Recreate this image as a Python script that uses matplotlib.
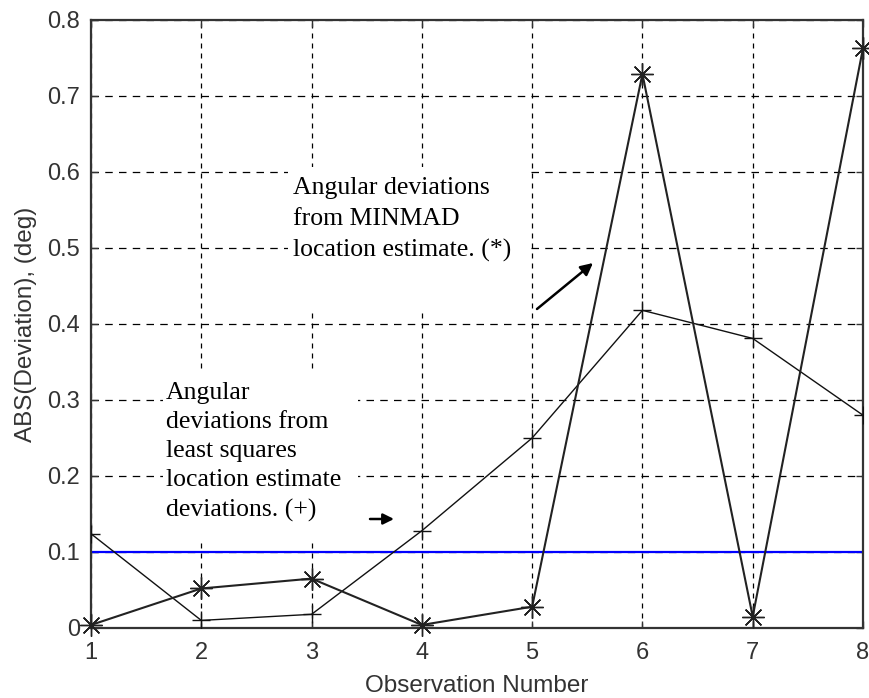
import matplotlib
matplotlib.use("Agg")
import matplotlib.pyplot as plt
from matplotlib.patches import Rectangle

obs = [1, 2, 3, 4, 5, 6, 7, 8]
ls_dev = [0.124, 0.010, 0.018, 0.128, 0.250, 0.418, 0.381, 0.280]
minmad_dev = [0.004, 0.052, 0.065, 0.004, 0.028, 0.729, 0.015, 0.763]
threshold = 0.1
xticks = [1, 2, 3, 4, 5, 6, 7, 8]
yticks = [0, 0.1, 0.2, 0.3, 0.4, 0.5, 0.6, 0.7, 0.8]
yticklabels = ["0", "0.1", "0.2", "0.3", "0.4", "0.5", "0.6", "0.7", "0.8"]

W, H = 869, 698
fig = plt.figure(figsize=(W / 100, H / 100), dpi=100)
ax = fig.add_axes([91 / W, 70 / H, 772 / W, 608 / H])

def fx(px):
    return px / W

def fy(py):
    return 1 - py / H

ax.set_xlim(1, 8)
ax.set_ylim(0, 0.8)
ax.set_xticks(xticks)
ax.set_yticks(yticks)
ax.set_yticklabels(yticklabels)
for lab in ax.get_xticklabels() + ax.get_yticklabels():
    lab.set_fontfamily("Liberation Sans")
    lab.set_fontsize(17)
    lab.set_color("#333333")
ax.tick_params(direction="in", length=5, width=1, color="#333333",
               top=True, right=True)
ax.tick_params(axis="x", pad=10)
ax.tick_params(axis="y", pad=8)
ax.set_axisbelow(True)
ax.grid(axis="y", color="black", lw=0.9, linestyle=(0, (6, 5)))
ax.grid(axis="x", color="black", lw=0.9, linestyle=(0, (4, 4)))
for s in ax.spines.values():
    s.set_color("#333333")
    s.set_linewidth(1.6)

ax.set_xlabel("Observation Number", fontdict=dict(family="Liberation Sans", size=17.5),
              color="#333333", labelpad=8)
ax.set_ylabel("ABS(Deviation), (deg)", fontdict=dict(family="Liberation Sans", size=17.5),
              color="#333333", labelpad=7)

# white text boxes covering grid
for (x0, y0, x1, y1) in [(288, 167, 530, 313), (163, 370, 358, 540)]:
    r = Rectangle((fx(x0), fy(y1)), fx(x1) - fx(x0), fy(y0) - fy(y1),
                  transform=fig.transFigure, facecolor="white", edgecolor="none",
                  zorder=1.5, clip_on=False)
    ax.add_patch(r)

ax.axhline(threshold, color="#0000ff", lw=1.6, zorder=2)
ax.plot(obs, ls_dev, color="#111111", lw=1.0, marker="+", markersize=13,
        markeredgewidth=1.0, zorder=3)
ax.plot(obs, minmad_dev, color="#222222", lw=1.5, marker=(8, 2, 0), markersize=16,
        markeredgewidth=1.0, zorder=3, clip_on=False)

serif = dict(family="Liberation Serif", size=18.5)
fig.text(fx(293), fy(177), "Angular deviations\nfrom MINMAD\nlocation estimate. (*)",
         ha="left", va="top", fontdict=serif, linespacing=1.52, zorder=5)
fig.text(fx(166), fy(382), "Angular\ndeviations from\nleast squares\nlocation estimate\ndeviations. (+)",
         ha="left", va="top", fontdict=serif, linespacing=1.42, zorder=5)

ax.annotate("", xy=(fx(593), fy(263)), xytext=(fx(537), fy(309)),
            xycoords="figure fraction", textcoords="figure fraction",
            arrowprops=dict(arrowstyle="-|>", color="black", lw=1.8,
                            mutation_scale=18, shrinkA=0, shrinkB=0))
ax.annotate("", xy=(fx(394), fy(519)), xytext=(fx(370), fy(519)),
            xycoords="figure fraction", textcoords="figure fraction",
            arrowprops=dict(arrowstyle="-|>", color="black", lw=1.8,
                            mutation_scale=16, shrinkA=0, shrinkB=0))

fig.savefig("out.png", dpi=100, facecolor="white")
